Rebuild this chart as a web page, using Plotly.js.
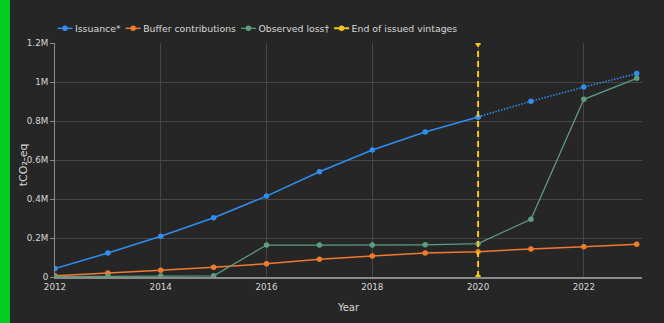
<!DOCTYPE html>
<html><head><meta charset="utf-8">
<script src="https://cdn.plot.ly/plotly-3.0.1.min.js"></script>
<style>
html,body{margin:0;padding:0;background:#262626;overflow:hidden;}
#wrap{position:relative;width:664px;height:323px;overflow:hidden;}
#bar{position:absolute;left:0;top:0;width:10px;height:323px;background:#00cc22;z-index:5}
#chart{position:absolute;left:0;top:0;width:1328px;height:646px;transform:scale(0.5);transform-origin:0 0;}
</style>
</head><body><div id="wrap"><div id="bar"></div><div id="chart"></div></div>
<script>
const years = [2012,2013,2014,2015,2016,2017,2018,2019,2020,2021,2022,2023];
const issuance = [43000,123000,209000,304000,415000,540000,651000,744000,821000,901000,974000,1043000];
const buffer = [7000,21000,34000,50000,68000,91000,108000,123000,130000,144000,155000,168000];
const observedLoss = [2000,4000,5000,6000,164000,164000,164000,165000,171000,296000,911000,1019000];
const endYear = 2020;
const yMax = 1200000;
const yTickVals = [0,200000,400000,600000,800000,1000000,1200000];
const yTickText = ['0','0.2M','0.4M','0.6M','0.8M','1M','1.2M'];
const yTitle = 'tCO₂-eq';

const iIdx = years.indexOf(endYear);
const traces = [
  {x: years.slice(0,iIdx+1), y: issuance.slice(0,iIdx+1), name:'Issuance*', mode:'lines+markers',
   line:{color:'#2f8ef0',width:3}, marker:{size:11,color:'#2f8ef0'}},
  {x: years.slice(iIdx), y: issuance.slice(iIdx), name:'Issuance* (projected)', mode:'lines+markers', showlegend:false,
   line:{color:'#2f8ef0',width:3,dash:'dot'}, marker:{size:11,color:'#2f8ef0'}},
  {x: years, y: buffer, name:'Buffer contributions', mode:'lines+markers',
   line:{color:'#f07b2f',width:3}, marker:{size:11,color:'#f07b2f'}},
  {x: years, y: observedLoss, name:'Observed loss†', mode:'lines+markers',
   line:{color:'#5e9e80',width:2.5}, marker:{size:11,color:'#5e9e80'}},
  {x: [endYear,endYear], y: [0,yMax], name:'End of issued vintages', mode:'lines+markers',
   line:{color:'#f5c518',width:4,dash:'12px,8px'}, marker:{size:11,color:'#f5c518'}}
];
const layout = {
  width:1328, height:646,
  paper_bgcolor:'#262626', plot_bgcolor:'#262626',
  font:{family:'DejaVu Sans, Verdana, sans-serif', size:18, color:'#d8d8d8'},
  margin:{l:110,r:44,t:86,b:92},
  showlegend:true,
  legend:{orientation:'h', x:0, xanchor:'left', y:1.062, yanchor:'middle', font:{size:18.7,color:'#d8d8d8'}, bgcolor:'rgba(0,0,0,0)'},
  xaxis:{title:{text:'Year', font:{size:20}, standoff:26}, range:[2012,2023.1], dtick:2, tick0:2012,
    gridcolor:'#464646', gridwidth:2, showline:true, linecolor:'#8a8a8a', linewidth:4, zeroline:false,
    ticks:'', tickfont:{size:17.5}},
  yaxis:{range:[0,yMax],
    gridcolor:'#464646', gridwidth:2, showline:true, linecolor:'#8a8a8a', linewidth:2, zeroline:false,
    ticks:'outside', ticklen:8, tickwidth:2, tickcolor:'#8a8a8a', tickfont:{size:17.5},
    tickvals:yTickVals, ticktext:yTickText},
  annotations:[{text:yTitle, xref:'paper', yref:'paper', x:-0.0545, y:0.48, xanchor:'center', yanchor:'middle',
    textangle:-90, showarrow:false, font:{size:22,color:'#d8d8d8'}}]
};
Plotly.newPlot('chart', traces, layout, {displayModeBar:false, staticPlot:true});
</script></body></html>
